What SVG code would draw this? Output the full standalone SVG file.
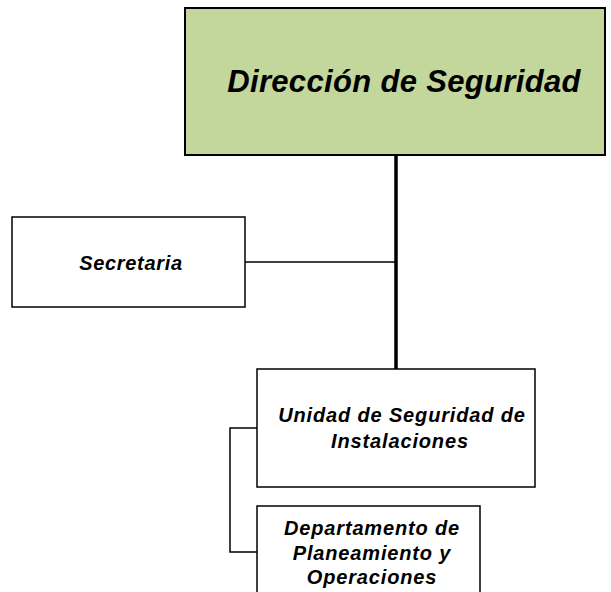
<svg xmlns="http://www.w3.org/2000/svg" width="611" height="592" viewBox="0 0 611 592">
<style>
.box{fill:#ffffff;stroke:#000000;stroke-width:1.5}
.top{fill:#C3D69B;stroke:#000000;stroke-width:2}
.t{font-family:"Liberation Sans",Arial,sans-serif;font-weight:bold;font-style:italic;text-anchor:middle;fill:#000000}
.s{font-size:20px;letter-spacing:0.85px}
.ln{fill:none;stroke:#000000;stroke-width:1.5}
</style>
<g id="connectors">
<line x1="396" y1="155" x2="396" y2="369" stroke="#000" stroke-width="3.5"/>
<line class="ln" x1="245" y1="262" x2="396" y2="262"/>
<polyline class="ln" points="257,428 230,428 230,552 257,552"/>
</g>
<g id="n-direccion">
<rect class="top" x="185" y="8" width="420" height="147"/>
<text class="t" x="404" y="92" font-size="31" letter-spacing="0.33">Dirección de Seguridad</text>
</g>
<g id="n-secretaria">
<rect class="box" x="12" y="217" width="233" height="90"/>
<text class="t" x="131" y="270" font-size="20" letter-spacing="0.67">Secretaria</text>
</g>
<g id="n-unidad">
<rect class="box" x="257" y="369" width="278" height="118"/>
<text class="t s" x="402" y="422">Unidad de Seguridad de</text>
<text class="t s" x="400" y="448">Instalaciones</text>
</g>
<g id="n-departamento">
<rect class="box" x="257" y="506" width="223" height="100"/>
<text class="t s" x="372" y="535">Departamento de</text>
<text class="t s" x="372" y="560">Planeamiento y</text>
<text class="t s" x="372" y="584">Operaciones</text>
</g>
</svg>
